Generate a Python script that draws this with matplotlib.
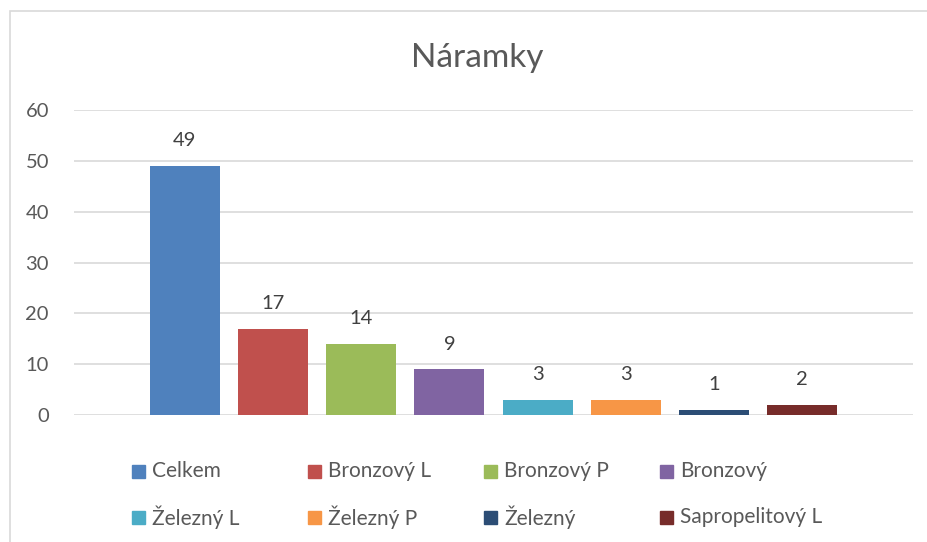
import matplotlib.pyplot as plt
from matplotlib.patches import Rectangle

plt.rcParams['font.family'] = ['Lato', 'DejaVu Sans']

nazvy = ['Celkem', 'Bronzový L', 'Bronzový P', 'Bronzový',
         'Železný L', 'Železný P', 'Železný', 'Sapropelitový L']
pocty = [49, 17, 14, 9, 3, 3, 1, 2]
barvy = ['#4F81BD', '#C0504D', '#9BBB59', '#8064A2',
         '#4BACC6', '#F79646', '#2C4D75', '#772C2A']
yticks = [0, 10, 20, 30, 40, 50, 60]

sedy_text = '#595959'
W, H = 928, 542

fig = plt.figure(figsize=(W / 100, H / 100), dpi=100)
ax = fig.add_axes([74 / W, 1 - 415 / H, (913 - 74) / W, (415 - 110) / H])

# ramecek grafu
fig.add_artist(Rectangle((10 / W, -0.05), 1.2, 1 - 11 / H + 0.05,
                         transform=fig.transFigure, fill=False,
                         edgecolor='#D9D9D9', linewidth=1.2))

x = list(range(len(nazvy)))
sloupce = ax.bar(x, pocty, width=0.795, color=barvy, zorder=3)
for s, v in zip(sloupce, pocty):
    ax.annotate(str(v), (s.get_x() + s.get_width() / 2, v),
                xytext=(0, 12), textcoords='offset points',
                ha='center', va='bottom', fontsize=14.5, color='#404040')

ax.set_xlim(3.5 - 4.756, 3.5 + 4.756)
ax.set_ylim(0, 60)
ax.set_yticks(yticks)
ax.set_xticks([])
ax.tick_params(axis='y', length=0, labelsize=14.5, labelcolor=sedy_text, pad=18)
ax.grid(axis='y', color='#D9D9D9', linewidth=1.2, zorder=0)
for sp in ax.spines.values():
    sp.set_visible(False)

fig.text(477 / W, 1 - 58 / H, 'Náramky', ha='center', va='center',
         fontsize=24, color=sedy_text)

# legenda ve dvou radcich po ctyrech
sloupce_leg = [139, 315, 491, 667]
radky_leg = [471, 517]
for i, (n, b) in enumerate(zip(nazvy, barvy)):
    r, c = divmod(i, 4)
    cx, cy = sloupce_leg[c], radky_leg[r]
    fig.add_artist(Rectangle(((cx - 6.5) / W, 1 - (cy + 6.5) / H), 13 / W, 13 / H,
                             transform=fig.transFigure, color=b))
    fig.text((cx + 13) / W, 1 - cy / H, n, ha='left', va='center',
             fontsize=15, color=sedy_text)

fig.savefig('out.png', dpi=100)
